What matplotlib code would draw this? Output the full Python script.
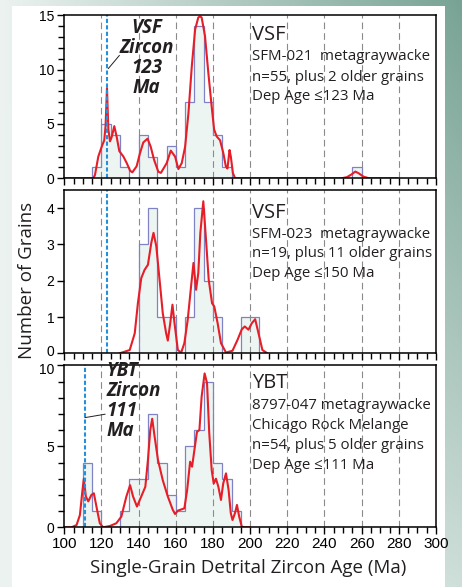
import numpy as np
import matplotlib
matplotlib.use("Agg")
import matplotlib.pyplot as plt
from matplotlib.patches import Rectangle
from matplotlib.transforms import ScaledTranslation

# ---------------- data ----------------
bin_edges = list(range(100, 305, 5))  # 5-Ma bins, 100..300

# histogram counts: (bin left edge -> count)
top_bin_left = [115, 120, 125, 130, 135, 140, 145, 150, 155, 160, 165, 170, 175, 180, 185, 255]
top_counts = [1, 5, 4, 1, 0, 4, 2, 0, 3, 1, 7, 14, 7, 4, 1, 1]

mid_bin_left = [140, 145, 150, 155, 160, 165, 170, 175, 180, 195, 200]
mid_counts = [3, 4, 1, 1, 0, 1, 4, 2, 1, 1, 1]

bot_bin_left = [110, 115, 130, 135, 140, 145, 150, 155, 160, 165, 170, 175, 180, 185, 190]
bot_counts = [4, 1, 1, 3, 3, 7, 4, 2, 1, 5, 6, 9, 4, 3, 1]

# probability density curves
top_curve_x = [100, 110, 115.6, 116.5, 118.3, 120.1, 121.5, 122.2, 122.97, 123.7, 124.6, 125.5,
               126.9, 128.2, 129.6, 131.8, 133.6, 135.4, 136.6, 138.9, 140.7, 142.5, 144.8,
               146.5, 148.3, 150.6, 152.0, 155.1, 157.3, 159.6, 161.4, 163.2, 165.0, 166.8,
               168.6, 170.4, 172.1, 173.0, 173.9, 175.7, 177.5, 179.3, 180.6, 182.0, 183.8,
               185.6, 186.9, 187.8, 188.9, 189.6, 190.7, 191.9, 200, 240, 249, 252, 254.5,
               256.6, 258.5, 261, 264, 270, 279]
top_curve_y = [0, 0, 0, 0.3, 2.0, 2.9, 3.5, 4.8, 8.3, 4.5, 3.4, 3.8,
               4.8, 3.8, 2.5, 2.0, 1.4, 0.7, 0.55, 1.1, 2.3, 3.3, 3.65,
               2.9, 1.7, 0.6, 0.5, 1.4, 2.55, 2.0, 0.85, 1.4, 2.9, 6.0,
               10.3, 13.7, 14.8, 14.9, 14.8, 13.1, 9.7, 6.6, 4.5, 3.85, 3.5,
               2.3, 1.1, 0.9, 2.6, 2.0, 0.5, 0, 0, 0, 0, 0.1, 0.35,
               0.62, 0.45, 0.15, 0, 0, 0]

mid_curve_x = [129.8, 135.2, 137.9, 139.6, 141.4, 143.2, 145.0, 146.8, 148.0, 149.5, 151.25,
               153.0, 154.8, 155.7, 157.0, 158.2, 159.3, 161.1, 162.9, 164.6, 166.4, 168.2,
               169.5, 170.9, 172.1, 173.2, 174.8, 176.25, 177.7, 179.5, 180.7, 182.5, 184.3,
               187.0, 190.5, 193.2, 195.5, 197.1, 199.1, 200.9, 202.7, 204.5, 206.6, 209.3]
mid_curve_y = [0, 0.09, 0.55, 1.38, 2.07, 2.3, 2.44, 3.04, 3.32, 2.95, 2.03,
               1.1, 0.55, 0.35, 0.83, 1.34, 0.83, 0.09, 0.02, 0.28, 0.92, 1.84,
               2.49, 1.75, 2.21, 3.32, 4.19, 3.13, 2.03, 1.38, 1.29, 0.83, 0.28,
               0.02, 0.07, 0.37, 0.66, 0.74, 0.65, 0.83, 0.94, 0.55, 0.09, 0]

bot_curve_x = [100, 103.9, 106.6, 108.4, 109.6, 110.5, 111.6, 112.9, 114.6, 115.9, 117.3,
               119.1, 120.9, 124.5, 128.0, 130.7, 133.4, 135.4, 137.0, 139.1, 141.4, 143.6,
               145.0, 146.25, 147.3, 148.6, 150.4, 153.0, 155.7, 158.4, 159.6, 161.1, 162.9,
               164.6, 166.1, 167.7, 168.75, 170.0, 171.4, 172.7, 173.9, 175.5, 176.8, 178.0,
               179.3, 180.4, 181.6, 182.9, 184.3, 185.5, 187.0, 188.4, 189.6, 190.5, 191.8,
               192.9, 194.1, 195.5, 196.8, 199.8]
bot_curve_y = [0, 0, 0.14, 0.76, 2.1, 3.0, 1.9, 1.6, 2.0, 2.1, 1.28,
               0.25, 0, 0.08, 0.25, 0.66, 1.9, 2.6, 1.9, 1.28, 1.9, 2.5,
               4.16, 6.0, 6.7, 5.6, 4.16, 2.9, 1.9, 1.07, 0.82, 1.03, 1.1,
               1.17, 2.3, 4.05, 3.74, 4.77, 5.9, 6.0, 8.07, 9.5, 8.9, 5.8,
               3.54, 2.7, 3.0, 2.5, 1.69, 2.7, 3.33, 2.3, 0.86, 0.45, 0.86,
               1.38, 0.66, 0.04, 0, 0]

dep_ages = [123, 123, 111]
y_limits = [15, 4.5, 10]
y_major = [[0, 5, 10, 15], [0, 1, 2, 3, 4], [0, 5, 10]]
y_minor_step = [1, None, 1]
x_ticks = list(range(100, 320, 20))
grid_lines = list(range(120, 300, 20))

panel_text = [
    ["VSF", "SFM-021  metagraywacke", "n=55, plus 2 older grains", "Dep Age \u2264123 Ma"],
    ["VSF", "SFM-023  metagraywacke", "n=19, plus 11 older grains", "Dep Age \u2264150 Ma"],
    ["YBT", "8797-047 metagraywacke", "Chicago Rock Melange", "n=54, plus 5 older grains",
     "Dep Age \u2264111 Ma"],
]

# ---------------- figure ----------------
W, H = 462, 587
fig = plt.figure(figsize=(W / 100, H / 100), dpi=100)

# background gradient
bg = fig.add_axes([0, 0, 1, 1], zorder=-10)
bg.set_axis_off()
nx, ny = 200, 200
xx, yy = np.meshgrid(np.linspace(0, 1, nx), np.linspace(0, 1, ny))
t = xx * (1 - 0.75 * yy)
light = np.array([0.925, 0.952, 0.942])
dark = np.array([0.47, 0.64, 0.58])
img = light[None, None, :] + t[:, :, None] * (dark - light)[None, None, :]
bg.imshow(img, extent=[0, 1, 0, 1], aspect="auto", origin="upper")
bg.set_xlim(0, 1)
bg.set_ylim(0, 1)
bg.add_patch(Rectangle((12 / W, 0), (445 - 12) / W, 1 - 6 / H, color="white", lw=0))


def fx(px):
    return px / W


def fy(py):
    return 1 - py / H


left, right = 64.3, 436.0
panels = [(15.3, 178.3), (190.0, 353.3), (365.3, 527.3)]

hist_data = [(top_bin_left, top_counts), (mid_bin_left, mid_counts), (bot_bin_left, bot_counts)]
curves = [(top_curve_x, top_curve_y), (mid_curve_x, mid_curve_y), (bot_curve_x, bot_curve_y)]

tick_font = "Liberation Sans"
txt_font = "Open Sans"

axes = []
for i, (ptop, pbot) in enumerate(panels):
    ax = fig.add_axes([fx(left), fy(pbot), (right - left) / W, (pbot - ptop) / H])
    axes.append(ax)
    ax.set_facecolor("none")
    ax.set_xlim(100, 300)
    ax.set_ylim(0, y_limits[i])

    # histogram
    counts = np.zeros(len(bin_edges) - 1)
    for b, c in zip(hist_data[i][0], hist_data[i][1]):
        counts[bin_edges.index(b)] = c
    ax.stairs(counts, bin_edges, fill=True, color="#edf5f2", zorder=1)
    ax.stairs(counts, bin_edges, fill=False, color="#7f83c6", lw=0.9, zorder=2)

    # grid dashed lines
    for g in grid_lines:
        ax.axvline(g, color="#8a8a8a", lw=0.8, dashes=(6, 3.6), zorder=1.5)

    # curve
    ax.plot(curves[i][0], curves[i][1], color="#e61e28", lw=1.5, zorder=3,
            solid_joinstyle="round")

    # dep age line
    ax.axvline(dep_ages[i], color="#2490dc", lw=1.5, dashes=(2, 1.1), zorder=4)

    ax.set_xticks(x_ticks)
    ax.set_xticks(list(range(100, 305, 5)), minor=True)
    ax.set_yticks(y_major[i])
    if y_minor_step[i]:
        ax.set_yticks(list(np.arange(0, y_limits[i] + 0.01, y_minor_step[i])), minor=True)
    ax.tick_params(axis="both", which="major", direction="out", length=5, width=1.0,
                   color="black")
    ax.tick_params(axis="both", which="minor", direction="out", length=4, width=1.0,
                   color="black")
    ax.tick_params(axis="y", which="major", labelsize=10, pad=2)
    ax.tick_params(axis="x", which="major", labelsize=11, pad=2)
    for lab in ax.get_yticklabels() + ax.get_xticklabels():
        lab.set_fontfamily(tick_font)
    if i < 2:
        ax.set_xticklabels([])
    for s in ax.spines.values():
        s.set_linewidth(1.1)
        s.set_zorder(5)

# nudge the two crowded y labels (middle "0", bottom "10") slightly apart
lab_mid0 = axes[1].get_yticklabels()[0]
lab_mid0.set_transform(lab_mid0.get_transform() + ScaledTranslation(0, 0.03, fig.dpi_scale_trans))
lab_bot10 = axes[2].get_yticklabels()[-1]
lab_bot10.set_transform(lab_bot10.get_transform() + ScaledTranslation(0, -0.03, fig.dpi_scale_trans))

# panel texts
text_x = 252
title_base = [40.5, 218.3, 388.3]
line_base = [[60.5, 80.5, 100.5], [237.7, 256.7, 276.7], [409.3, 429.3, 449.3, 469.0]]
for i in range(3):
    fig.text(fx(text_x), fy(title_base[i]), panel_text[i][0], family=txt_font,
             fontsize=14.5, va="baseline", ha="left", color="#231f20")
    for j, ln in enumerate(panel_text[i][1:]):
        fig.text(fx(text_x), fy(line_base[i][j]), ln, family=txt_font, fontsize=10.8,
                 va="baseline", ha="left", color="#231f20")

# bold italic annotations
for j, ln in enumerate(["VSF", "Zircon", "123", "Ma"]):
    fig.text(fx(146.5), fy([33.3, 53.3, 73.3, 93.3][j]), ln, family=txt_font,
             fontsize=13.5, fontweight="bold", fontstyle="italic", va="baseline",
             ha="center", color="#231f20")
for j, ln in enumerate(["YBT", "Zircon", "111", "Ma"]):
    fig.text(fx(106.5), fy([375.5, 396.0, 416.5, 436.5][j]), ln, family=txt_font,
             fontsize=13.5, fontweight="bold", fontstyle="italic", va="baseline",
             ha="left", color="#231f20")

# leader lines
axes[0].plot([123.7, 129.6], [10.1, 11.3], color="#231f20", lw=0.7, zorder=6)
axes[2].plot([111.1, 121.9], [6.77, 6.98], color="#231f20", lw=0.7, zorder=6)

# axis labels
fig.text(fx(27), fy(280), "Number of Grains", family=txt_font, fontsize=13.5,
         rotation=90, ha="center", va="center", color="#231f20")
fig.text(fx(248), fy(568), "Single-Grain Detrital Zircon Age (Ma)", family=txt_font,
         fontsize=13.5, ha="center", va="center", color="#231f20")

fig.savefig("out.png", dpi=100)
